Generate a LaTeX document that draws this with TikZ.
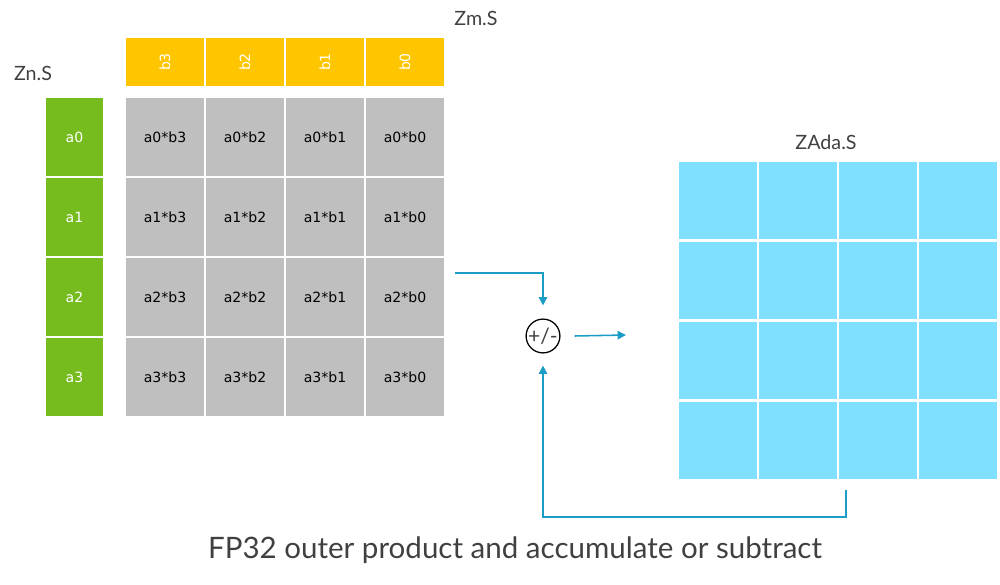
\documentclass[tikz,border=0pt]{standalone}
\usepackage{fontspec}
\setmainfont{Lato}
\newfontfamily\cellfont{DejaVu Sans}
\usetikzlibrary{arrows.meta}
\definecolor{zmyellow}{HTML}{FFC600}
\definecolor{zngreen}{HTML}{77BC1F}
\definecolor{prodgray}{HTML}{BFBFBF}
\definecolor{zablue}{HTML}{80E0FF}
\definecolor{flowblue}{HTML}{1A9CC4}
\definecolor{labelgray}{HTML}{404040}
\tikzset{
  cellbox/.style={draw=white, line width=1.5pt, minimum width=80*0.025cm,
    minimum height=80*0.025cm, inner sep=0pt, font=\cellfont\fontsize{10}{12}\selectfont},
  ycell/.style={cellbox, fill=zmyellow, minimum height=50*0.025cm, text=white},
  gcell/.style={cellbox, fill=zngreen, minimum width=59*0.025cm, text=white},
  pcell/.style={cellbox, fill=prodgray, text=black},
  acell/.style={cellbox, fill=zablue},
  regname/.style={text=labelgray, font=\fontsize{14}{16}\selectfont},
  flow/.style={draw=flowblue, line width=1.1pt, -{Triangle[length=6pt,width=6pt]}}
}
\begin{document}
\begin{tikzpicture}[x=0.025cm, y=-0.025cm]
\useasboundingbox (0,0) rectangle (1000,585);
% Zm.S row
\foreach \c/\b in {0/3,1/2,2/1,3/0}
  \node[ycell] (zm\c) at (165+80*\c, 62) {\rotatebox{90}{b\b}};
% Zn.S column
\foreach \r in {0,...,3}
  \node[gcell] (zn\r) at (74.5, 137+80*\r) {a\r};
% outer product
\foreach \r in {0,...,3}
  \foreach \c/\b in {0/3,1/2,2/1,3/0}
    \node[pcell] (p\r\c) at (165+80*\c, 137+80*\r) {a\r*b\b};
% ZAda.S
\foreach \r in {0,...,3}
  \foreach \c in {0,...,3}
    \node[acell] (za\r\c) at (718+80*\c, 200.5+80*\r) {};
\node[regname] (zmlabel) at (476, 18) {Zm.S};
\node[regname] (znlabel) at (33, 73) {Zn.S};
\node[regname] (zalabel) at (826, 142) {ZAda.S};
% accumulate
\node[draw=black, line width=0.9pt, circle, minimum size=32*0.025cm, inner sep=0pt,
  text=labelgray, font=\fontsize{15}{17}\selectfont] (acc) at (543, 336) {+/-};
\coordinate (prodout) at (455, 273);
\coordinate (accout) at (846, 490);
\coordinate (accin) at (626, 335);
\draw[flow, shorten >=13*0.025cm] (prodout) -| (acc.north);
\draw[flow] ([xshift=14*0.025cm]acc.east) -- (accin);
\draw[flow, shorten >=12*0.025cm] (accout) |- (543, 517) -- (acc.south);
\node[text=labelgray, font=\fontsize{21}{25}\selectfont] (title) at (515, 550)
  {FP32 outer product and accumulate or subtract};
\end{tikzpicture}
\end{document}
